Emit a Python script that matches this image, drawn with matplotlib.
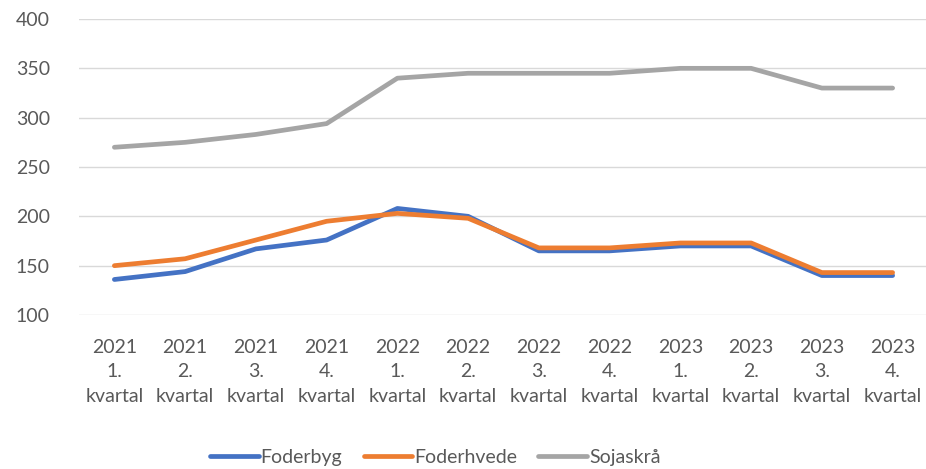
import matplotlib
matplotlib.use("Agg")

import matplotlib.pyplot as plt
import numpy as np

plt.rcParams["font.family"] = ["Lato", "DejaVu Sans"]

years = ["2021"] * 4 + ["2022"] * 4 + ["2023"] * 4
quarters = ["1.", "2.", "3.", "4."] * 3
tick_labels = [f"{y}\n{q}\nkvartal" for y, q in zip(years, quarters)]

foderbyg = [136, 144, 167, 176, 208, 200, 165, 165, 170, 170, 140, 140]
foderhvede = [150, 157, 176, 195, 203, 198, 168, 168, 173, 173, 143, 143]
sojaskra = [270, 275, 283, 294, 340, 345, 345, 345, 350, 350, 330, 330]

TEXT = "#595959"
FS = 14

fig = plt.figure(figsize=(9.26, 4.69), dpi=100)
ax = fig.add_axes([79 / 926, 1 - 315 / 469, 849 / 926, 296 / 469])

x = np.arange(len(tick_labels))
style = dict(lw=3.4, solid_capstyle="round", solid_joinstyle="round")
ax.plot(x, sojaskra, color="#A5A5A5", label="Sojaskrå", zorder=3, **style)
ax.plot(x, foderbyg, color="#4472C4", label="Foderbyg", zorder=4, **style)
ax.plot(x, foderhvede, color="#ED7D31", label="Foderhvede", zorder=5, **style)

ax.set_xlim(-0.5, len(x) - 0.5)
ax.set_ylim(100, 400)
ax.set_yticks(np.arange(100, 401, 50))
ax.set_xticks(x)
ax.set_xticklabels(tick_labels, fontsize=FS, color=TEXT, linespacing=1.55)
ax.tick_params(axis="y", labelsize=FS, labelcolor=TEXT, length=0, pad=21)
ax.tick_params(axis="x", length=0, pad=17)

ax.grid(axis="y", color="#D9D9D9", lw=1.0)
ax.set_axisbelow(True)
for s in ax.spines.values():
    s.set_visible(False)

handles, labels = ax.get_legend_handles_labels()
order = [1, 2, 0]
leg = fig.legend([handles[i] for i in order], [labels[i] for i in order],
                 loc="center", bbox_to_anchor=(0.47, 1 - 457 / 469), ncol=3, frameon=False,
                 fontsize=FS, handlelength=2.5, handletextpad=0.1, columnspacing=1.1)
for t in leg.get_texts():
    t.set_color(TEXT)

fig.savefig("out.png", dpi=100)
